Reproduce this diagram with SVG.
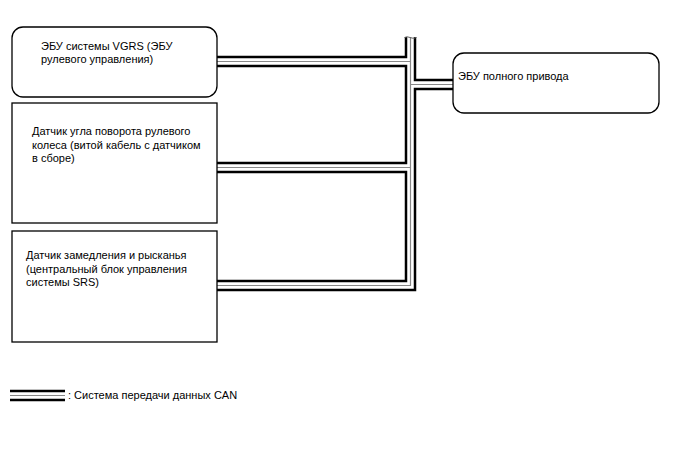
<svg xmlns="http://www.w3.org/2000/svg" width="688" height="463" viewBox="0 0 688 463">
<style>
.box{fill:#fff;stroke:#000;stroke-width:1.3}
.t{font-family:"Liberation Sans",Arial,sans-serif;font-size:11px;fill:#000}
.b1{fill:none;stroke:#000;stroke-width:11.5;stroke-linejoin:miter}
.b2{fill:none;stroke:#fff;stroke-width:6.5;stroke-linejoin:miter}
.b3{fill:none;stroke:#888;stroke-width:1.2;stroke-linejoin:miter}
</style>
<defs>
<path id="bus" d="M410.5,37 V285.5 H217 M217,61.5 H410.5 M217,167.5 H410.5 M410.5,84.5 H453"/>
</defs>
<g id="connectors">
<use href="#bus" class="b1"/>
<use href="#bus" class="b2"/>
<use href="#bus" class="b3"/>
<path d="M404.5,37.5 Q407,36 410,37.5 T416.5,37.5" fill="none" stroke="#666" stroke-width="1"/>
</g>
<g id="node-vgrs">
<rect class="box" x="12" y="27" width="205" height="70" rx="11"/>
<text class="t" x="41" y="50">ЭБУ системы VGRS (ЭБУ</text>
<text class="t" x="41" y="63">рулевого управления)</text>
</g>
<g id="node-steer-sensor">
<rect class="box" x="12" y="103" width="205" height="120"/>
<text class="t" x="32" y="135">Датчик угла поворота рулевого</text>
<text class="t" x="32" y="149">колеса (витой кабель с датчиком</text>
<text class="t" x="32" y="162">в сборе)</text>
</g>
<g id="node-yaw-sensor">
<rect class="box" x="12" y="231" width="205" height="111"/>
<text class="t" x="26" y="259">Датчик замедления и рысканья</text>
<text class="t" x="26" y="272.5">(центральный блок управления</text>
<text class="t" x="26" y="286">системы SRS)</text>
</g>
<g id="node-4wd">
<rect class="box" x="453" y="53" width="206" height="60" rx="11"/>
<text class="t" x="458" y="80">ЭБУ полного привода</text>
</g>
<g id="legend">
<path d="M10,395.5 H65" class="b1"/>
<path d="M10,395.5 H65" class="b2"/>
<path d="M10,395.5 H65" class="b3"/>
<text class="t" x="68" y="399">: Система передачи данных CAN</text>
</g>
</svg>
